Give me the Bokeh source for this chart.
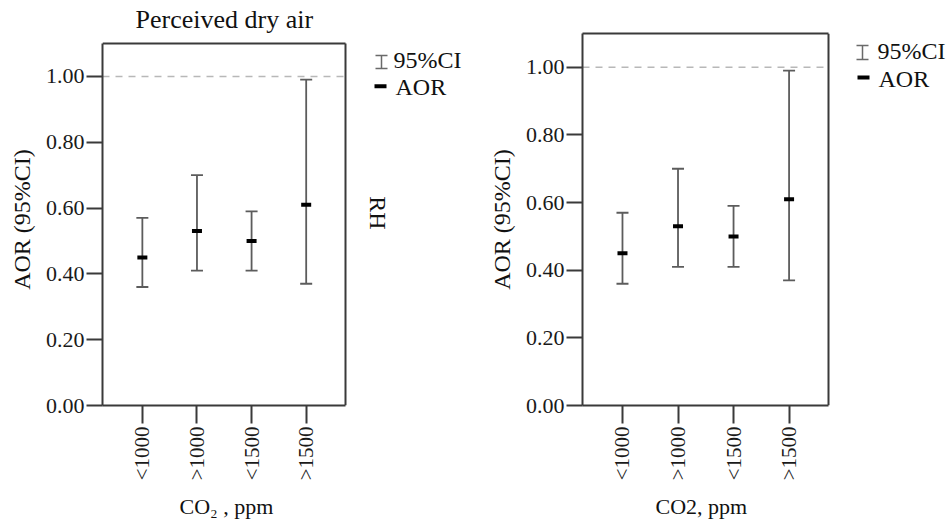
import math
from bokeh.plotting import figure
from bokeh.models import (Range1d, FixedTicker, NumeralTickFormatter, Whisker,
                          TeeHead, ColumnDataSource, LinearAxis, Title)
from bokeh.core.properties import value
from bokeh.layouts import row
from bokeh.embed import file_html
from bokeh.resources import INLINE

# ---------------- data ----------------
categories = ["<1000", ">1000", "<1500", ">1500"]
aor = [0.45, 0.53, 0.50, 0.61]
ci_low = [0.36, 0.41, 0.41, 0.37]
ci_high = [0.57, 0.70, 0.59, 0.99]
y_ticks = [0.0, 0.2, 0.4, 0.6, 0.8, 1.0]
y_max = 1.10
reference_or = [1.0]

left_title = "Perceived dry air"
left_xlabel = "CO\u2082 , ppm"
right_xlabel = "CO2, ppm"
y_label = "AOR (95%CI)"
side_label = "RH"
legend_ci = "95%CI"
legend_aor = "AOR"

FONT = "Liberation Serif"
AX = "#3a3a3a"
BAR = "#5c5c5c"
FIG_H = 520
FRAME_TOP = 33       # shared by both figures (row aligns their frames)
FRAME_BOTTOM = 406


def make_panel(fig_x, fig_w, left, box_top, box_w, pad_l, pad_r, xlabel, xlabel_offset,
               legend_at, title=None, title_offset=0, side_at=None):
    n = len(categories)
    xs = list(range(n))
    frame_x = fig_x + left
    frame_w = fig_w - left
    frame_h = FRAME_BOTTOM - FRAME_TOP
    box_h = FRAME_BOTTOM - box_top
    unit = box_w / ((n - 1) + pad_l + pad_r)       # px per category step
    x0 = -pad_l
    xb = (n - 1) + pad_r                              # right edge of the drawn box
    x_end = x0 + frame_w / unit
    y_end = y_max * frame_h / box_h

    def dx(px):   # page x -> data x
        return x0 + (px - frame_x) / unit

    def dy(py):   # page y -> data y
        return y_end - (py - FRAME_TOP) / frame_h * y_end

    p = figure(width=fig_w, height=FIG_H, output_backend="svg", toolbar_location=None,
               min_border_left=left, min_border_right=0, min_border_top=FRAME_TOP,
               min_border_bottom=FIG_H - FRAME_BOTTOM, background_fill_color="white",
               border_fill_color="white", outline_line_color=None)
    p.x_range = Range1d(x0, x_end)
    p.y_range = Range1d(0, y_end)
    p.grid.visible = False

    # axes
    p.xaxis.ticker = FixedTicker(ticks=xs)
    p.xaxis.bounds = (x0, xb)
    p.xaxis.major_label_overrides = {i: c for i, c in enumerate(categories)}
    p.xaxis.major_label_orientation = math.pi / 2
    p.xaxis.major_tick_out = 18
    p.xaxis.major_tick_in = 0
    p.xaxis.major_label_standoff = 3
    p.yaxis.ticker = FixedTicker(ticks=y_ticks)
    p.yaxis.bounds = (0, y_max)
    p.yaxis.formatter = NumeralTickFormatter(format="0.00")
    p.yaxis.major_tick_out = 16
    p.yaxis.major_tick_in = 0
    p.yaxis.major_label_standoff = 2
    for ax in (p.xaxis, p.yaxis):
        ax.minor_tick_line_color = None
        ax.axis_line_color = AX
        ax.axis_line_width = 2
        ax.major_tick_line_color = AX
        ax.major_tick_line_width = 2
        ax.major_label_text_font = FONT
        ax.major_label_text_color = "#1a1a1a"
        ax.axis_label_text_font = FONT
        ax.axis_label_text_font_style = "normal"
        ax.axis_label_text_color = "#111111"
    p.xaxis.major_label_text_font_size = "21px"
    p.yaxis.major_label_text_font_size = "22px"
    # invisible spacer so that the x title below sits a little lower
    p.xaxis.axis_label = " "
    p.xaxis.axis_label_text_font_size = "5px"
    p.xaxis.axis_label_standoff = 2
    p.yaxis.axis_label = y_label
    p.yaxis.axis_label_text_font_size = "24px"
    p.yaxis.axis_label_standoff = 8

    # x-axis title, centred under the box
    p.add_layout(Title(text=xlabel, align="left", offset=xlabel_offset,
                       vertical_align="top", standoff=0, text_font=FONT,
                       text_font_size="22px", text_font_style="normal",
                       text_color="#111111"), "below")

    # top and right edges of the box
    if box_top <= FRAME_TOP:
        top_ax = LinearAxis(ticker=FixedTicker(ticks=[]), bounds=(x0, xb),
                            axis_line_color=AX, axis_line_width=2,
                            major_tick_line_color=None, minor_tick_line_color=None,
                            major_label_text_font_size="0px")
        p.add_layout(top_ax, "above")
    else:
        p.segment(x0=[x0], y0=[y_max], x1=[xb], y1=[y_max], line_color=AX, line_width=2)
    p.segment(x0=[xb], y0=[0], x1=[xb], y1=[y_max], line_color=AX, line_width=2)

    if title:
        p.title.text = title
        p.title.align = "left"
        p.title.offset = title_offset
        p.title.vertical_align = "bottom"
        p.title.text_font = FONT
        p.title.text_font_size = "26px"
        p.title.text_font_style = "normal"
        p.title.text_color = "#111111"
        p.title.standoff = 0

    # reference line at AOR = 1
    p.segment(x0=[x0] * len(reference_or), y0=reference_or,
              x1=[xb] * len(reference_or), y1=reference_or,
              line_color="#b8b8b8", line_dash="7 6", line_width=1.5)

    src = ColumnDataSource(dict(x=xs, aor=aor, lo=ci_low, hi=ci_high))
    p.add_layout(Whisker(source=src, base="x", upper="hi", lower="lo",
                         line_color=BAR, line_width=1.8,
                         upper_head=TeeHead(size=12, line_color=BAR, line_width=1.8),
                         lower_head=TeeHead(size=12, line_color=BAR, line_width=1.8)))
    p.scatter("x", "aor", source=src, marker="dash", size=10, line_width=4,
              line_color="black")

    # legend beside the box: I-beam for the CI, dash for the AOR (page coords)
    ix, iy_top, iy_bot, ci_x, ci_base, mx, my, aor_x, aor_base = legend_at
    leg = ColumnDataSource(dict(x=[dx(ix)], lo=[dy(iy_bot)], hi=[dy(iy_top)]))
    p.add_layout(Whisker(source=leg, base="x", upper="hi", lower="lo",
                         line_color="#6a6a6a", line_width=1.5,
                         upper_head=TeeHead(size=12, line_color="#6a6a6a", line_width=1.5),
                         lower_head=TeeHead(size=12, line_color="#6a6a6a", line_width=1.5)))
    p.text(x=[dx(ci_x)], y=[dy(ci_base - 8)], text=[legend_ci], text_font=value(FONT),
           text_font_size=value("24px"), text_color="#111111",
           text_align="left", text_baseline="alphabetic")
    p.scatter(x=[dx(mx)], y=[dy(my)], marker="dash", size=12, line_width=4,
              line_color="black")
    p.text(x=[dx(aor_x)], y=[dy(aor_base - 8)], text=[legend_aor], text_font=value(FONT),
           text_font_size=value("24px"), text_color="#111111",
           text_align="left", text_baseline="alphabetic")
    if side_at:
        sx, sy = side_at
        p.text(x=[dx(sx)], y=[dy(sy)], text=[side_label], text_font=value(FONT),
               text_font_size=value("24px"), text_color="#111111",
               text_align="center", text_baseline="middle", angle=-math.pi / 2)
    return p


left = make_panel(0, 478, 102, 43, 243, 0.73, 0.72, left_xlabel, 77,
                  legend_at=(381, 55, 68, 393, 68, 380, 86, 395, 95),
                  title=left_title, title_offset=33, side_at=(377, 213))
right = make_panel(478, 474, 104, 33, 246, 0.72, 0.71, right_xlabel, 73,
                   legend_at=(862, 45, 59, 877, 59, 863, 77, 878, 87))

layout = row(left, right)
open("out.html", "w").write(file_html(layout, INLINE))
